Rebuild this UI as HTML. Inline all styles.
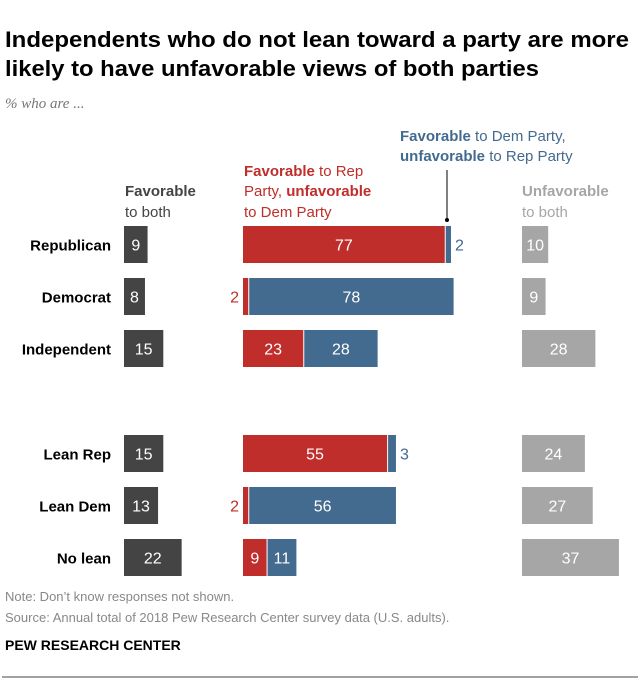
<!DOCTYPE html>
<html><head><meta charset="utf-8"><style>
body{margin:0;background:#fff;}
svg{display:block;font-family:"Liberation Sans",Arial,sans-serif;}
</style></head><body>
<svg width="640" height="684" viewBox="0 0 640 684" id="chart">
<text x="5" y="47" font-size="22" font-weight="bold" fill="#000" textLength="624" lengthAdjust="spacingAndGlyphs">Independents who do not lean toward a party are more</text>
<text x="5" y="76" font-size="22" font-weight="bold" fill="#000" textLength="534" lengthAdjust="spacingAndGlyphs">likely to have unfavorable views of both parties</text>
<text x="5" y="108" font-size="15" font-style="italic" fill="#777" font-family="Liberation Serif,serif">% who are ...</text>

<g font-size="15">
<text x="125" y="196" fill="#444" font-weight="bold">Favorable</text>
<text x="125" y="217" fill="#444">to both</text></g>
<g font-size="15" fill="#bf2e2a">
<text x="244" y="176"><tspan font-weight="bold">Favorable</tspan> to Rep</text>
<text x="244" y="196">Party, <tspan font-weight="bold">unfavorable</tspan></text>
<text x="244" y="217">to Dem Party</text></g>
<g font-size="15" fill="#436a8f">
<text x="400" y="141"><tspan font-weight="bold">Favorable</tspan> to Dem Party,</text>
<text x="400" y="161"><tspan font-weight="bold">unfavorable</tspan> to Rep Party</text></g>
<line x1="447" y1="170" x2="447" y2="219" stroke="#000" stroke-width="1"/>
<circle cx="447" cy="220" r="2" fill="#000"/>
<g font-size="15" fill="#a6a6a6">
<text x="522" y="196" font-weight="bold">Unfavorable</text>
<text x="522" y="217">to both</text></g>

<g id="bars"></g>

<text x="5" y="601" font-size="13" fill="#888">Note: Don’t know responses not shown.</text>
<text x="5" y="622" font-size="13" fill="#888">Source: Annual total of 2018 Pew Research Center survey data (U.S. adults).</text>
<text x="5" y="650" font-size="14" font-weight="bold" fill="#000">PEW RESEARCH CENTER</text>
<line x1="2" y1="677" x2="638" y2="677" stroke="#444" stroke-width="1"/>
</svg>
<script>
const categories=["Republican","Democrat","Independent","Lean Rep","Lean Dem","No lean"];
const favBoth=[9,8,15,15,13,22];
const favRep=[77,2,23,55,2,9];
const favDem=[2,78,28,3,56,11];
const unfavBoth=[10,9,28,24,27,37];

const NS="http://www.w3.org/2000/svg";
const g=document.getElementById("bars");
const k=2.62;
const xLeft=v=>124+v*k, xMid=v=>243+v*k, xRight=v=>522+v*k;
const rowTop=[226,278,330,435,487,539];
const H=37;
function mk(tag,attrs){const e=document.createElementNS(NS,tag);for(const a in attrs)e.setAttribute(a,attrs[a]);g.appendChild(e);return e;}
function label(x,y,t,fill,anchor){const e=mk("text",{x:x,y:y,fill:fill,"font-size":16,"text-anchor":anchor||"middle"});e.textContent=t;return e;}
categories.forEach((c,i)=>{
  const y=rowTop[i],cy=y+H/2+6;
  const rl=mk("text",{x:111,y:cy,"font-size":15,"font-weight":"bold","text-anchor":"end",fill:"#000"});
  rl.textContent=c;
  
  
  const b1=mk("rect",{x:xLeft(0),y:y,width:xLeft(favBoth[i])-xLeft(0),height:H,fill:"#444"});
  
  
  const l1=label((xLeft(0)+xLeft(favBoth[i]))/2,cy,favBoth[i],"#fff");
  
  
  const w2=xMid(favRep[i])-xMid(0);
  const b2=mk("rect",{x:xMid(0),y:y,width:w2,height:H,fill:"#bf2e2a"});
  
  
  let l2;
  if(favRep[i]<5) l2=label(xMid(0)-4,cy,favRep[i],"#bf2e2a","end");
  else l2=label((xMid(0)+xMid(favRep[i]))/2,cy,favRep[i],"#fff");
  
  
  const s=xMid(favRep[i])+1;
  const w3=favDem[i]*k;
  const b3=mk("rect",{x:s,y:y,width:w3,height:H,fill:"#436a8f"});
  
  
  let l3;
  if(favDem[i]<5) l3=label(s+w3+4,cy,favDem[i],"#436a8f","start");
  else l3=label(s+w3/2,cy,favDem[i],"#fff");
  
  
  const b4=mk("rect",{x:xRight(0),y:y,width:xRight(unfavBoth[i])-xRight(0),height:H,fill:"#a6a6a6"});
  
  
  const l4=label((xRight(0)+xRight(unfavBoth[i]))/2,cy,unfavBoth[i],"#fff");
  
  
});
</script>
</body></html>
